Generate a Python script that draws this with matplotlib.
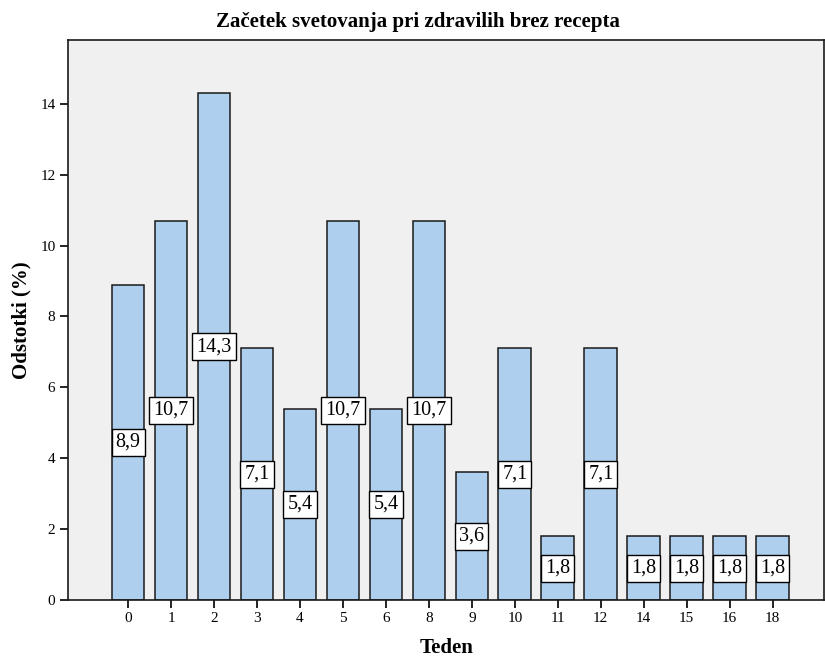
import matplotlib.pyplot as plt
import numpy as np

# tedni in odstotki
tedni = ['0', '1', '2', '3', '4', '5', '6', '8', '9', '10', '11', '12', '14', '15', '16', '18']
odstotki = [8.9, 10.7, 14.3, 7.1, 5.4, 10.7, 5.4, 10.7, 3.6, 7.1, 1.8, 7.1, 1.8, 1.8, 1.8, 1.8]

plt.rcParams['font.family'] = ['Liberation Serif', 'DejaVu Serif']

fig = plt.figure(figsize=(8.25, 6.57), dpi=100)
ax = fig.add_axes([0.0824, 0.0868, 0.9166, 0.8522])
ax.set_facecolor('#f0f0f0')

x = np.arange(len(tedni))
ax.bar(x, odstotki, width=0.76, color='#aed0ee', edgecolor='#1a1a1a', linewidth=1.1, zorder=2)

for xi, v in zip(x, odstotki):
    ax.text(xi, v / 2, f'{v:.1f}'.replace('.', ','), ha='center', va='center', fontsize=14.5,
            bbox=dict(boxstyle='square,pad=0.2', facecolor='white', edgecolor='black', linewidth=1.0),
            zorder=3)

ax.set_xlim(-1.4, 16.2)
ax.set_ylim(0, 15.8)
ax.set_xticks(x)
ax.set_xticklabels(tedni, fontsize=11)
ax.set_yticks(range(0, 15, 2))
ax.set_yticklabels([str(t) for t in range(0, 15, 2)], fontsize=11)
ax.tick_params(direction='out', length=6, width=1.2, pad=3)

for s in ax.spines.values():
    s.set_linewidth(1.2)
    s.set_color('#1a1a1a')

fig.text(0.506, 0.966, 'Začetek svetovanja pri zdravilih brez recepta', ha='center', va='center',
         fontsize=15, fontweight='bold')
ax.set_xlabel('Teden', fontsize=15, fontweight='bold', labelpad=9)
ax.set_ylabel('Odstotki (%)', fontsize=15, fontweight='bold', labelpad=6)

plt.savefig('out.png', dpi=100)
